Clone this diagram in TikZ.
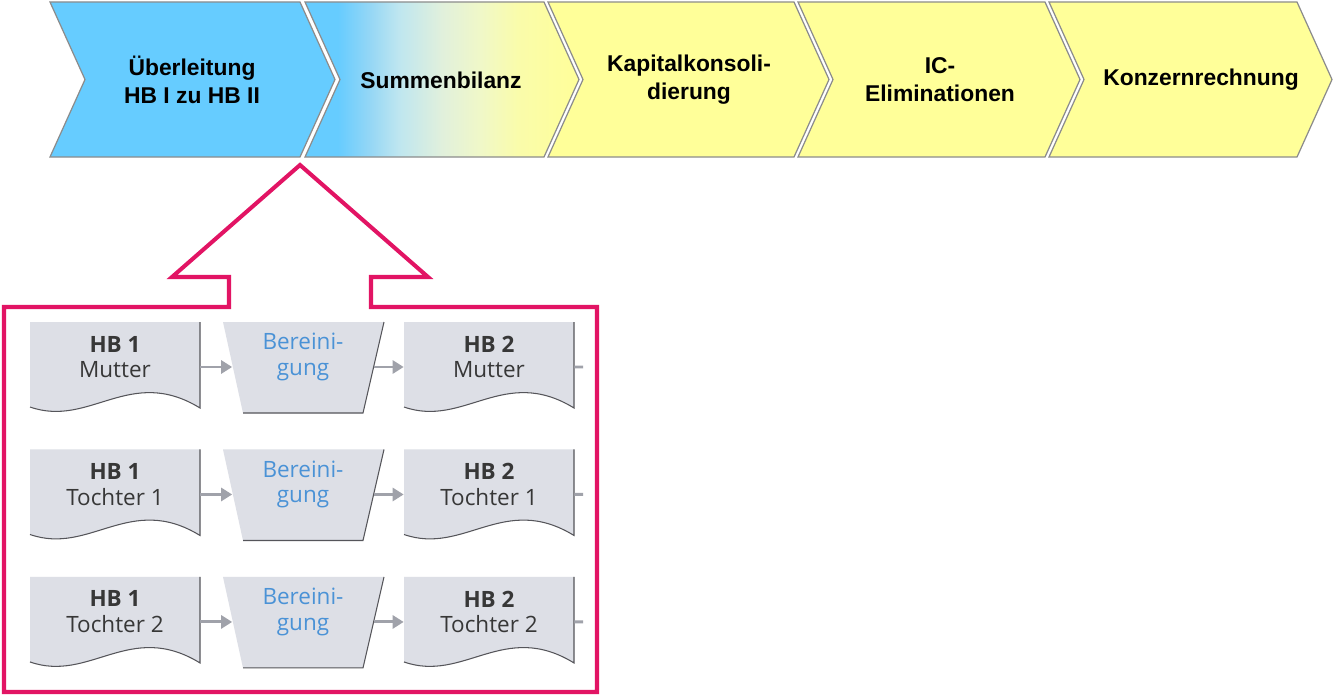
\documentclass[tikz,border=0pt]{standalone}
\usepackage{fontspec}
\setmainfont{Liberation Sans}
\newfontfamily\bookfont{Open Sans}
\usetikzlibrary{arrows.meta}

\definecolor{stepblue}{RGB}{102,204,255}
\definecolor{stepyellow}{RGB}{255,255,153}
\definecolor{blendone}{RGB}{150,215,245}
\definecolor{blendtwo}{RGB}{190,230,240}
\definecolor{blendthree}{RGB}{225,240,220}
\definecolor{blendfour}{RGB}{240,248,200}
\definecolor{blendfive}{RGB}{250,252,170}
\definecolor{stepedge}{RGB}{140,140,140}
\definecolor{zoompink}{RGB}{226,20,100}
\definecolor{sheetgray}{RGB}{221,223,230}
\definecolor{sheetedge}{RGB}{85,85,90}
\definecolor{flowgray}{RGB}{160,162,170}
\definecolor{textgray}{RGB}{55,55,55}
\definecolor{cleanblue}{RGB}{74,146,214}

\pgfdeclarehorizontalshading{blendstep}{100bp}{color(0bp)=(stepblue); color(31bp)=(stepblue);
    color(37bp)=(blendone); color(42bp)=(blendtwo); color(50bp)=(blendthree);
    color(57bp)=(blendfour); color(64bp)=(blendfive); color(75bp)=(stepyellow); color(100bp)=(stepyellow)}

\tikzstyle{chevron} = [draw=stepedge, line width=0.7pt, line join=miter]
\tikzstyle{steplabel} = [align=center, font=\fontsize{13}{15.9}\selectfont\bfseries, inner sep=0pt]
\tikzstyle{zoom} = [draw=zoompink, line width=2.3pt, line join=miter]
\tikzstyle{sheet} = [fill=sheetgray]
\tikzstyle{sheetline} = [draw=sheetedge, line width=0.6pt]
\tikzstyle{doc} = [
    align=center,
    text=textgray,
    font=\bookfont\fontsize{12.8}{14.7}\selectfont,
    minimum width=3.4cm,
    inner sep=0pt
]
\tikzstyle{clean} = [doc, text=cleanblue, minimum width=2.82cm]
\tikzstyle{flow} = [-{Triangle[length=2.2mm, width=2.6mm]}, draw=flowgray, line width=1.7pt]

\begin{document}
\begin{tikzpicture}[x=0.02cm, y=-0.02cm]
    \useasboundingbox (0, 0) rectangle (1334, 696);
    \fill [white] (0, 0) rectangle (1334, 696);

    % Chevrons.
    \foreach \l/\r/\c in {50/300/stepblue, 548/794/stepyellow, 798/1045/stepyellow, 1049/1297/stepyellow}
        \draw [chevron, fill=\c] (\l, 2) -- (\r, 2) -- (\r + 35, 79.5) -- (\r, 157) -- (\l, 157) -- (\l + 35, 79.5) -- cycle;
    \draw [chevron, shading=blendstep]
        (305, 2) -- (544, 2) -- (579, 79.5) -- (544, 157) -- (305, 157) -- (340, 79.5) -- cycle;

    % Steps.
    \node (reconcile) [steplabel] at (192, 80) {Überleitung\\HB I zu HB II};
    \node (sum sheet) [steplabel] at (441, 80) {Summenbilanz};
    \node (capital) [steplabel] at (689, 80) {Kapitalkonsoli-\\dierung};
    \node (intercompany) [steplabel] at (940, 80) {IC-\\Eliminationen};
    \node (group) [steplabel] at (1201, 80) {Konzernrechnung};

    % Zoom frame.
    \draw [zoom] (300, 165) -- (428, 277) -- (371, 277) -- (371, 307) -- (597, 307) -- (597, 692)
        -- (4, 692) -- (4, 307) -- (229, 307) -- (229, 277) -- (172, 277) -- cycle;

    % Rows.
    \foreach \i/\who in {0/Mutter, 1/Tochter 1, 2/Tochter 2} {
        \begin{scope}[yshift={-\i*2.55cm}]
            \fill [sheet] (30, 322) -- (200, 322) -- (200, 408) .. controls (130, 365) and (90, 428) .. (30, 407) -- cycle;
            \draw [sheetline] (200, 322) -- (200, 408) .. controls (130, 365) and (90, 428) .. (30, 407);

            \fill [sheet] (223, 322) -- (384, 322) -- (363, 413) -- (243, 413) -- cycle;
            \draw [sheetline] (384, 322) -- (363, 413) -- (243, 413);

            \fill [sheet] (404, 322) -- (574, 322) -- (574, 408) .. controls (504, 365) and (464, 428) .. (404, 407) -- cycle;
            \draw [sheetline] (574, 322) -- (574, 408) .. controls (504, 365) and (464, 428) .. (404, 407);

            \node (hbeins-\i) [doc] at (115, 357) {\textbf{HB 1}\\\who};
            \node (bereinigung-\i) [clean] at (303, 357) {Bereini-\\gung};
            \node (hbzwei-\i) [doc] at (489, 357) {\textbf{HB 2}\\\who};
            \coordinate (next-\i) at (583, 367);

            \draw [flow] ([yshift=-0.2cm]hbeins-\i.east) -- ([yshift=-0.2cm]bereinigung-\i.west);
            \draw [flow] ([yshift=-0.2cm]bereinigung-\i.east) -- ([yshift=-0.2cm]hbzwei-\i.west);
            \draw [draw=flowgray, line width=1.7pt] ([yshift=-0.2cm]hbzwei-\i.east) -- (next-\i);
        \end{scope}
    }
\end{tikzpicture}
\end{document}
